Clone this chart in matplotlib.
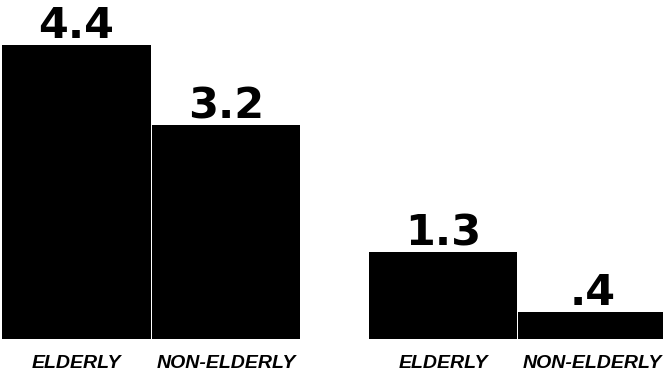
import matplotlib
matplotlib.use("Agg")
import matplotlib.pyplot as plt

# Data
categories = ["ELDERLY", "NON-ELDERLY", "ELDERLY", "NON-ELDERLY"]
values = [4.4, 3.2, 1.3, 0.4]
value_labels = ["4.4", "3.2", "1.3", ".4"]
positions = [0, 1, 2.45, 3.45]

fig = plt.figure(figsize=(6.63, 3.74), dpi=100)
ax = fig.add_axes([0, 0, 1, 1])

ax.bar(positions, values, width=0.993, color="black", linewidth=0)

for x, v, lab in zip(positions, values, value_labels):
    ax.annotate(lab, (x, v), xytext=(0, 5), textcoords="offset points",
                ha="center", va="baseline", fontsize=31, fontweight="heavy",
                family=["DejaVu Sans"])

for x, cat in zip(positions, categories):
    ax.text(x, -0.36, cat, ha="center", va="center", fontsize=14,
            fontweight="bold", fontstyle="italic",
            family=["Liberation Sans", "DejaVu Sans"])

ax.set_xlim(-0.512, 3.92)
ax.set_ylim(-0.524, 5.075)
ax.axis("off")

plt.savefig("out.png", dpi=100)
